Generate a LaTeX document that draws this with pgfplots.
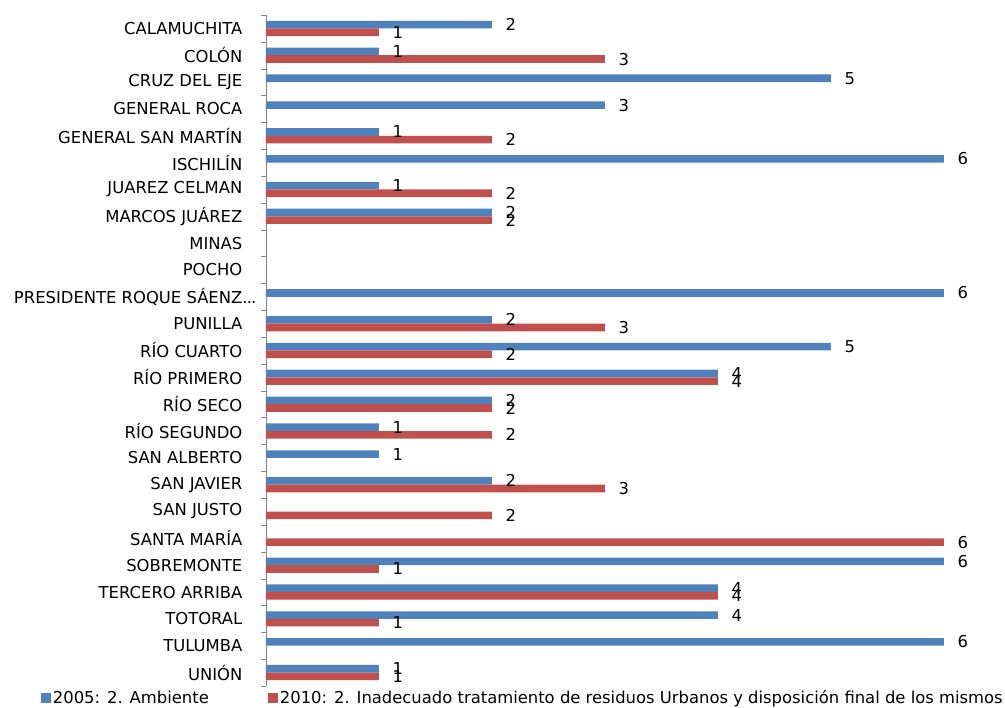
\documentclass[border=0pt]{standalone}
\usepackage{pgfplots}
\pgfplotsset{compat=1.18}
\usepackage{fontspec}
\setmainfont{DejaVu Sans}
\definecolor{serA}{HTML}{4F81BD}
\definecolor{serB}{HTML}{C0504D}
\definecolor{axgray}{HTML}{878787}
\begin{document}
\fontsize{16.4}{19.5}\selectfont
\begin{tikzpicture}
\useasboundingbox (0,0) rectangle (1005pt,708pt);
\begin{axis}[
  at={(266pt,22pt)}, anchor=south west,
  scale only axis,
  width=678pt, height=671pt,
  xmin=0, xmax=6,
  ymin=-0.5, ymax=24.5,
  xbar, bar width=7.6pt,
  axis x line=none,
  axis y line=left,
  y axis line style={-, draw=axgray},
  ytick={0,...,24},
  yticklabels={UNIÓN, TULUMBA, TOTORAL, TERCERO ARRIBA, SOBREMONTE, SANTA MARÍA,
    SAN JUSTO, SAN JAVIER, SAN ALBERTO, RÍO SEGUNDO, RÍO SECO, RÍO PRIMERO,
    RÍO CUARTO, PUNILLA, {PRESIDENTE ROQUE SÁENZ\rlap{.\kern-0.8pt.\kern-0.8pt.}},
    POCHO, MINAS, MARCOS JUÁREZ, JUAREZ CELMAN, ISCHILÍN, GENERAL SAN MARTÍN,
    GENERAL ROCA, CRUZ DEL EJE, COLÓN, CALAMUCHITA},
  minor ytick={-0.5,0.5,...,24.5},
  major tick length=0pt, minor tick length=5pt,
  tick align=outside,
  minor tick style={draw=axgray},
  yticklabel style={xshift=-18pt},
  clip=false,
  /pgf/number format/assume math mode=true,
  nodes near coords,
  every node near coord/.append style={xshift=8pt, text=black},
  legend columns=2,
  legend cell align=left,
  legend image code/.code={\fill[#1] (0pt,-5pt) rectangle (10pt,5pt);},
  legend style={draw=none, fill=none, at={(-0.336,-0.018)}, anchor=west,
    nodes={inner sep=1.5pt}},
]
\addplot[fill=serA, draw=none, bar shift=3.8pt] coordinates {
  (2,24) (1,23) (5,22) (3,21) (1,20) (6,19) (1,18) (2,17)
  (6,14) (2,13) (5,12) (4,11) (2,10) (1,9) (1,8) (2,7)
  (6,4) (4,3) (4,2) (6,1) (1,0)
};
\addlegendentry{\makebox[214pt][l]{2005: 2. Ambiente}}
\addplot[fill=serB, draw=none, bar shift=-3.8pt] coordinates {
  (1,24) (3,23) (2,20) (2,18) (2,17) (3,13) (2,12) (4,11)
  (2,10) (2,9) (3,7) (2,6) (6,5) (1,4) (4,3) (1,2) (1,0)
};
\addlegendentry{2010: 2. Inadecuado tratamiento de residuos Urbanos y disposición final de los mismos}
\end{axis}
\end{tikzpicture}
\end{document}
